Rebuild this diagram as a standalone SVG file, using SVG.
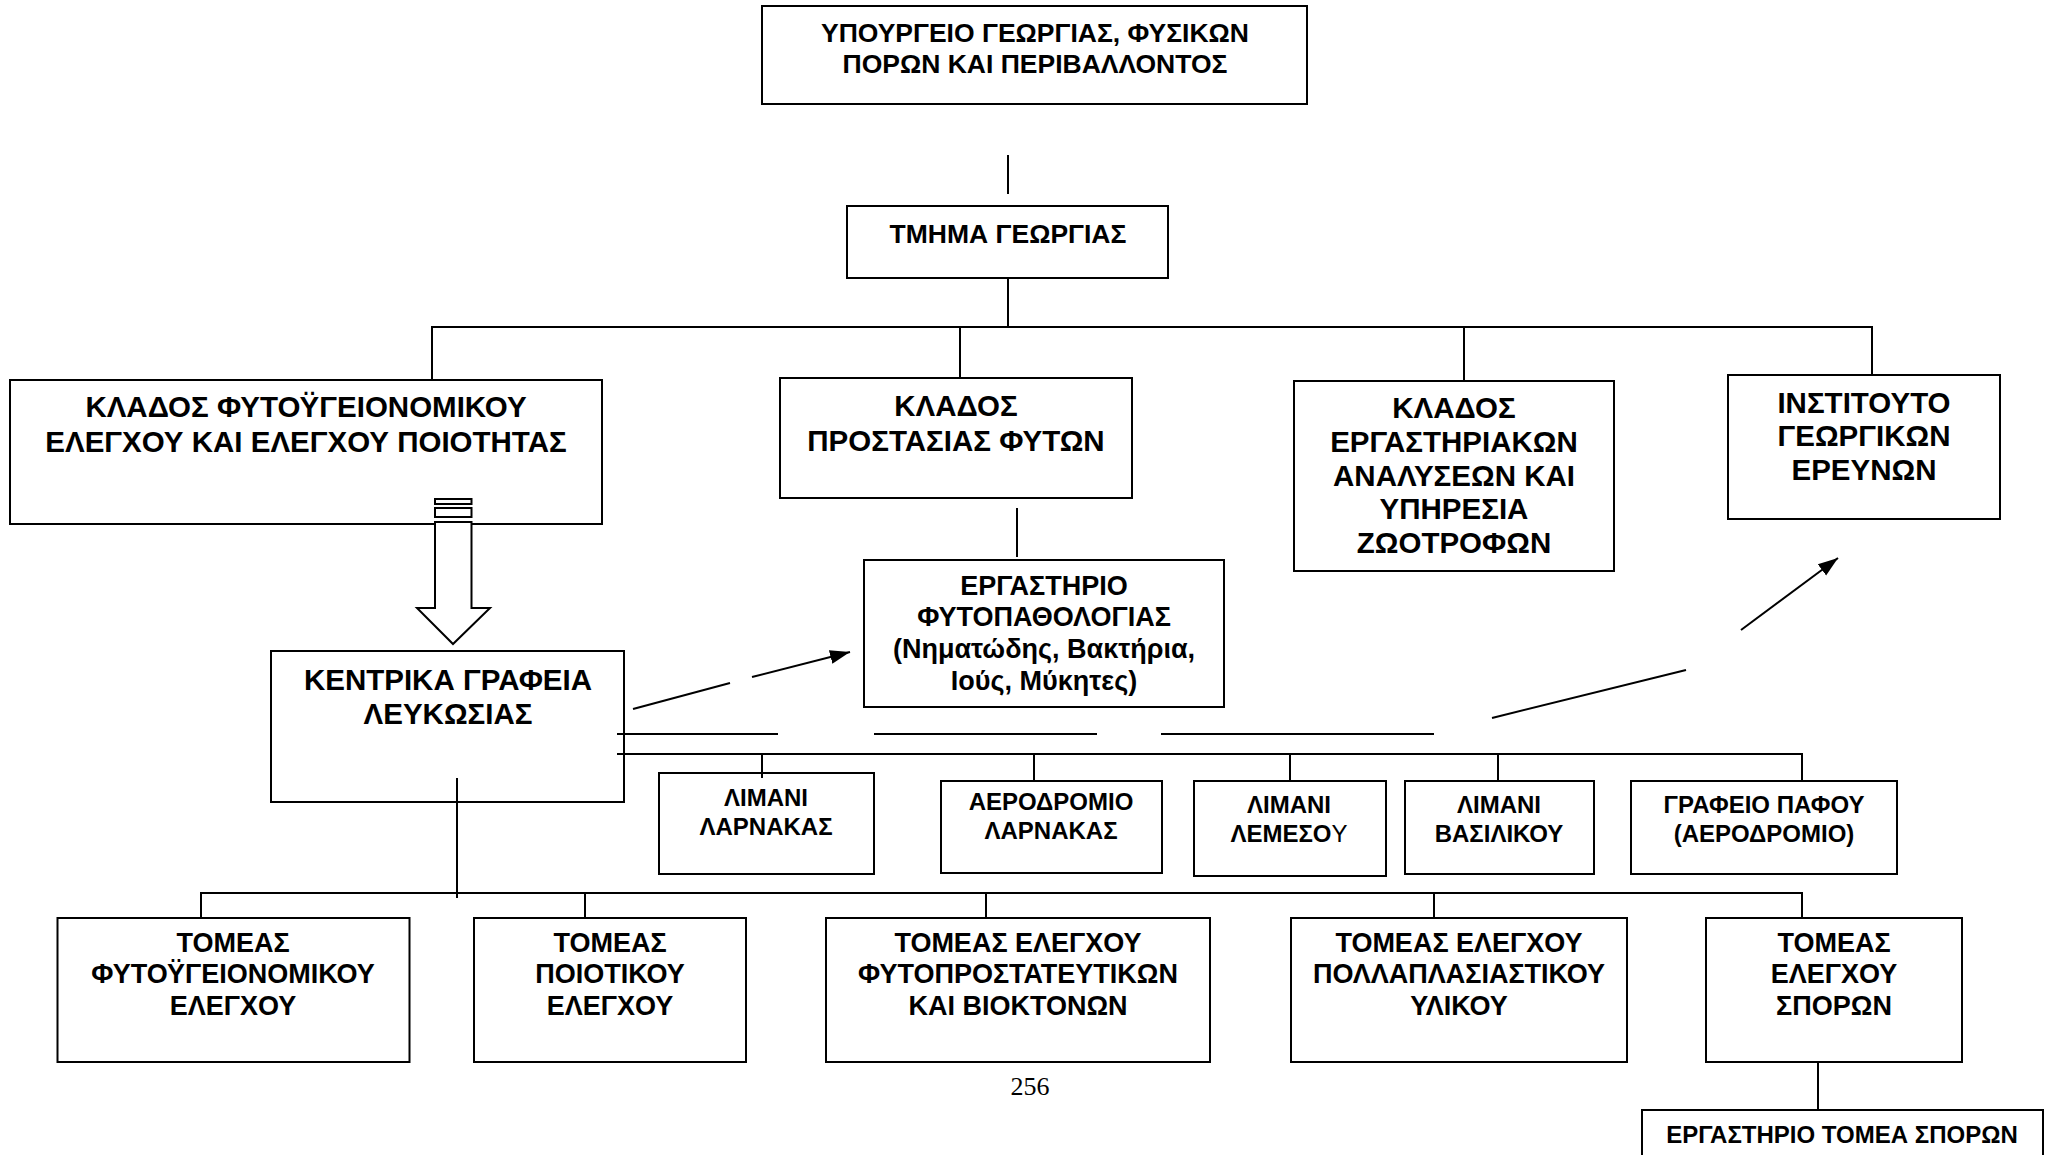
<svg xmlns="http://www.w3.org/2000/svg" width="2053" height="1155" viewBox="0 0 2053 1155">
<style>
.box{fill:#fff;stroke:#000;stroke-width:2}
.t{font-family:"Liberation Sans",Arial,sans-serif;font-weight:bold;text-anchor:middle;fill:#000}
.c{stroke:#000;stroke-width:2;fill:none}
.s26{font-size:26.5px}.s28{font-size:29.5px}.s27{font-size:27px}.s22{font-size:24px}.s23{font-size:24px}.s3{font-size:27px}
.pg{font-family:"Liberation Serif","Times New Roman",serif;font-size:26px;text-anchor:middle;fill:#000}
</style>
<defs>
<marker id="ah" markerUnits="userSpaceOnUse" markerWidth="22" markerHeight="16" refX="20" refY="8" orient="auto">
<path d="M0,1 L20,8 L0,15 Z" fill="#000"/>
</marker>
</defs>
<rect width="2053" height="1155" fill="#fff"/>

<g id="n-ministry">
<rect class="box" x="762" y="6" width="545" height="98"/>
<text class="t s26" x="1035" y="42">ΥΠΟΥΡΓΕΙΟ ΓΕΩΡΓΙΑΣ, ΦΥΣΙΚΩΝ</text>
<text class="t s26" x="1035" y="73">ΠΟΡΩΝ ΚΑΙ ΠΕΡΙΒΑΛΛΟΝΤΟΣ</text>
</g>
<g id="n-tmima">
<rect class="box" x="847" y="206" width="321" height="72"/>
<text class="t s26" x="1008" y="243">ΤΜΗΜΑ ΓΕΩΡΓΙΑΣ</text>
</g>
<g id="n-klados1">
<rect class="box" x="10" y="380" width="592" height="144"/>
<text class="t s28" x="306" y="417">ΚΛΑΔΟΣ ΦΥΤΟΫΓΕΙΟΝΟΜΙΚΟΥ</text>
<text class="t s28" x="306" y="452">ΕΛΕΓΧΟΥ ΚΑΙ ΕΛΕΓΧΟΥ ΠΟΙΟΤΗΤΑΣ</text>
</g>
<g id="n-klados2">
<rect class="box" x="780" y="378" width="352" height="120"/>
<text class="t s28" x="956" y="416">ΚΛΑΔΟΣ</text>
<text class="t s28" x="956" y="451">ΠΡΟΣΤΑΣΙΑΣ ΦΥΤΩΝ</text>
</g>
<g id="n-klados3">
<rect class="box" x="1294" y="381" width="320" height="190"/>
<text class="t s28" x="1454" y="418">ΚΛΑΔΟΣ</text>
<text class="t s28" x="1454" y="452">ΕΡΓΑΣΤΗΡΙΑΚΩΝ</text>
<text class="t s28" x="1454" y="486">ΑΝΑΛΥΣΕΩΝ ΚΑΙ</text>
<text class="t s28" x="1454" y="519">ΥΠΗΡΕΣΙΑ</text>
<text class="t s28" x="1454" y="553">ΖΩΟΤΡΟΦΩΝ</text>
</g>
<g id="n-institouto">
<rect class="box" x="1728" y="375" width="272" height="144"/>
<text class="t s28" x="1864" y="413">ΙΝΣΤΙΤΟΥΤΟ</text>
<text class="t s28" x="1864" y="446">ΓΕΩΡΓΙΚΩΝ</text>
<text class="t s28" x="1864" y="480">ΕΡΕΥΝΩΝ</text>
</g>
<g id="n-fytopathologia">
<rect class="box" x="864" y="560" width="360" height="147"/>
<text class="t s27" x="1044" y="595">ΕΡΓΑΣΤΗΡΙΟ</text>
<text class="t s27" x="1044" y="626">ΦΥΤΟΠΑΘΟΛΟΓΙΑΣ</text>
<text class="t s27" x="1044" y="658">(Νηματώδης, Βακτήρια,</text>
<text class="t s27" x="1044" y="690">Ιούς, Μύκητες)</text>
</g>
<g id="n-kentrika">
<rect class="box" x="271" y="651" width="353" height="151"/>
<text class="t s28" x="448" y="690">ΚΕΝΤΡΙΚΑ ΓΡΑΦΕΙΑ</text>
<text class="t s28" x="448" y="724">ΛΕΥΚΩΣΙΑΣ</text>
</g>
<g id="n-limani-larnakas">
<rect class="box" x="659" y="773" width="215" height="101"/>
<text class="t s22" x="766" y="806">ΛΙΜΑΝΙ</text>
<text class="t s22" x="766" y="835">ΛΑΡΝΑΚΑΣ</text>
</g>
<g id="n-aerodromio-larnakas">
<rect class="box" x="941" y="781" width="221" height="92"/>
<text class="t s22" x="1051" y="810">ΑΕΡΟΔΡΟΜΙΟ</text>
<text class="t s22" x="1051" y="839">ΛΑΡΝΑΚΑΣ</text>
</g>
<g id="n-limani-lemesou">
<rect class="box" x="1194" y="781" width="192" height="95"/>
<text class="t s22" x="1289" y="813">ΛΙΜΑΝΙ</text>
<text class="t s22" x="1289" y="842">ΛΕΜΕΣΟ<tspan font-weight="normal">Υ</tspan></text>
</g>
<g id="n-limani-vasilikou">
<rect class="box" x="1405" y="781" width="189" height="93"/>
<text class="t s22" x="1499" y="813">ΛΙΜΑΝΙ</text>
<text class="t s22" x="1499" y="842">ΒΑΣΙΛΙΚΟΥ</text>
</g>
<g id="n-grafeio-pafou">
<rect class="box" x="1631" y="781" width="266" height="93"/>
<text class="t s22" x="1764" y="813">ΓΡΑΦΕΙΟ ΠΑΦΟΥ</text>
<text class="t s22" x="1764" y="842">(ΑΕΡΟΔΡΟΜΙΟ)</text>
</g>
<g id="n-tomeas1">
<rect class="box" x="57.5" y="918" width="352" height="144"/>
<text class="t s3" x="233" y="952">ΤΟΜΕΑΣ</text>
<text class="t s3" x="233" y="983">ΦΥΤΟΫΓΕΙΟΝΟΜΙΚΟΥ</text>
<text class="t s3" x="233" y="1015">ΕΛΕΓΧΟΥ</text>
</g>
<g id="n-tomeas2">
<rect class="box" x="474" y="918" width="272" height="144"/>
<text class="t s3" x="610" y="952">ΤΟΜΕΑΣ</text>
<text class="t s3" x="610" y="983">ΠΟΙΟΤΙΚΟΥ</text>
<text class="t s3" x="610" y="1015">ΕΛΕΓΧΟΥ</text>
</g>
<g id="n-tomeas3">
<rect class="box" x="826" y="918" width="384" height="144"/>
<text class="t s3" x="1018" y="952">ΤΟΜΕΑΣ ΕΛΕΓΧΟΥ</text>
<text class="t s3" x="1018" y="983">ΦΥΤΟΠΡΟΣΤΑΤΕΥΤΙΚΩΝ</text>
<text class="t s3" x="1018" y="1015">ΚΑΙ ΒΙΟΚΤΟΝΩΝ</text>
</g>
<g id="n-tomeas4">
<rect class="box" x="1291" y="918" width="336" height="144"/>
<text class="t s3" x="1459" y="952">ΤΟΜΕΑΣ ΕΛΕΓΧΟΥ</text>
<text class="t s3" x="1459" y="983">ΠΟΛΛΑΠΛΑΣΙΑΣΤΙΚΟΥ</text>
<text class="t s3" x="1459" y="1015">ΥΛΙΚΟΥ</text>
</g>
<g id="n-tomeas5">
<rect class="box" x="1706" y="918" width="256" height="144"/>
<text class="t s3" x="1834" y="952">ΤΟΜΕΑΣ</text>
<text class="t s3" x="1834" y="983">ΕΛΕΓΧΟΥ</text>
<text class="t s3" x="1834" y="1015">ΣΠΟΡΩΝ</text>
</g>
<g id="n-ergastirio-sporon">
<rect class="box" x="1642" y="1110" width="401" height="60"/>
<text class="t s23" x="1842" y="1143">ΕΡΓΑΣΤΗΡΙΟ ΤΟΜΕΑ ΣΠΟΡΩΝ</text>
</g>

<g id="connectors">
<line class="c" x1="1008" y1="155" x2="1008" y2="194"/>
<line class="c" x1="1008" y1="278" x2="1008" y2="327"/>
<line class="c" x1="431" y1="327" x2="1873" y2="327"/>
<line class="c" x1="432" y1="327" x2="432" y2="380"/>
<line class="c" x1="960" y1="327" x2="960" y2="378"/>
<line class="c" x1="1464" y1="327" x2="1464" y2="381"/>
<line class="c" x1="1872" y1="327" x2="1872" y2="375"/>
<line class="c" x1="1017" y1="508" x2="1017" y2="557"/>
<rect class="box" x="435" y="499" width="36.5" height="5"/>
<rect class="box" x="435" y="508" width="36.5" height="9"/>
<path class="box" d="M435,522 L471.5,522 L471.5,608 L490,608 L453,644 L417,608 L435,608 Z"/>
<line class="c" x1="633" y1="709" x2="730" y2="683"/>
<line class="c" x1="752" y1="677" x2="850" y2="652" marker-end="url(#ah)"/>
<line class="c" x1="1492" y1="718" x2="1686" y2="670"/>
<line class="c" x1="1741" y1="630" x2="1838" y2="558" marker-end="url(#ah)"/>
<line class="c" x1="617" y1="734" x2="778" y2="734"/>
<line class="c" x1="874" y1="734" x2="1097" y2="734"/>
<line class="c" x1="1161" y1="734" x2="1434" y2="734"/>
<line class="c" x1="617" y1="754" x2="1803" y2="754"/>
<line class="c" x1="762" y1="754" x2="762" y2="778"/>
<line class="c" x1="1034" y1="754" x2="1034" y2="781"/>
<line class="c" x1="1290" y1="754" x2="1290" y2="781"/>
<line class="c" x1="1498" y1="754" x2="1498" y2="781"/>
<line class="c" x1="1802" y1="754" x2="1802" y2="781"/>
<line class="c" x1="457" y1="778" x2="457" y2="898"/>
<line class="c" x1="200" y1="893" x2="1803" y2="893"/>
<line class="c" x1="201" y1="893" x2="201" y2="918"/>
<line class="c" x1="585" y1="893" x2="585" y2="918"/>
<line class="c" x1="986" y1="893" x2="986" y2="918"/>
<line class="c" x1="1434" y1="893" x2="1434" y2="918"/>
<line class="c" x1="1802" y1="893" x2="1802" y2="918"/>
<line class="c" x1="1818" y1="1062" x2="1818" y2="1110"/>
</g>
<text class="pg" x="1030" y="1095">256</text>
</svg>
